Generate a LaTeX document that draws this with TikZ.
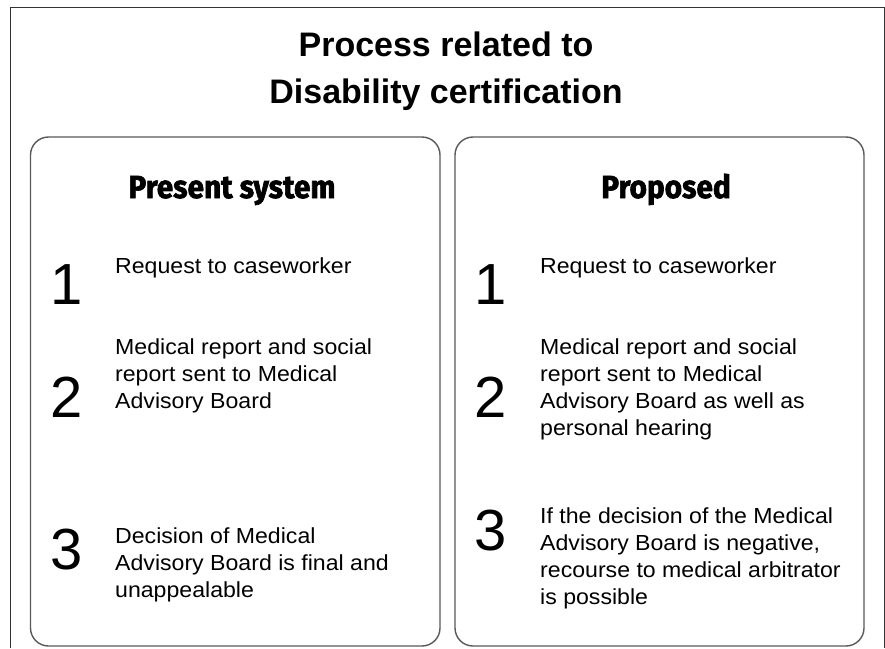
\documentclass[tikz,border=0pt]{standalone}
\usepackage{fontspec}
\newfontfamily\bodyfont{Liberation Sans}[FakeStretch=1.06]
\newfontfamily\numfont{Liberation Sans}[FakeStretch=1.0]
\newfontfamily\titlefont{Liberation Sans}[FakeStretch=1.0]
\newfontfamily\headfont{Fira Sans}[FakeStretch=0.93,FakeBold=2]
\tikzset{
  frame/.style={draw=black!80, line width=1pt},
  panel/.style={draw=black!65, line width=1.4pt, rounded corners=18pt},
  titletext/.style={font=\titlefont\bfseries\fontsize{34}{40}\selectfont, inner sep=0pt, anchor=base},
  headtext/.style={font=\headfont\bfseries\fontsize{32}{38}\selectfont, inner sep=0pt, anchor=base},
  numtext/.style={font=\numfont\fontsize{58}{60}\selectfont, inner sep=0pt, anchor=base},
  itemtext/.style={font=\bodyfont\fontsize{21.8}{27}\selectfont, inner sep=0pt, anchor=north west, align=left},
}
\begin{document}
\begin{tikzpicture}[x=1pt,y=-1pt]
\useasboundingbox (0,0) rectangle (885,648);
\fill[white] (0,0) rectangle (885,648);

% outer frame, open at the bottom
\draw[frame] (10.5,648) -- (10.5,7.5) -- (884,7.5) -- (884,648);

% two column panels
\draw[panel] (30.5,137) rectangle (440,646);
\draw[panel] (455,137) rectangle (864,646);

% title
\node[titletext] (title1) at (446,56) {Process related to};
\node[titletext] (title2) at (446,103) {Disability certification};

% column headings
\node[headtext] (headL) at (232,198) {Present system};
\node[headtext] (headR) at (666,198) {Proposed};

% present system steps
\node[numtext] (nL1) at (67,304) {1};
\node[itemtext] (sL1) at (115,254.1) {\strut Request to caseworker};
\node[numtext] (nL2) at (67,417) {2};
\node[itemtext] (sL2) at (115,335.1) {\strut Medical report and social\\report sent to Medical\\Advisory Board};
\node[numtext] (nL3) at (67,569) {3};
\node[itemtext] (sL3) at (115,524.1) {\strut Decision of Medical\\Advisory Board is final and\\unappealable};

% proposed steps
\node[numtext] (nR1) at (491,304) {1};
\node[itemtext] (sR1) at (540,254.1) {\strut Request to caseworker};
\node[numtext] (nR2) at (491,417) {2};
\node[itemtext] (sR2) at (540,335.1) {\strut Medical report and social\\report sent to Medical\\Advisory Board as well as\\personal hearing};
\node[numtext] (nR3) at (491,550) {3};
\node[itemtext] (sR3) at (540,504.1) {\strut If the decision of the Medical\\Advisory Board is negative,\\recourse to medical arbitrator\\is possible};
\end{tikzpicture}
\end{document}
